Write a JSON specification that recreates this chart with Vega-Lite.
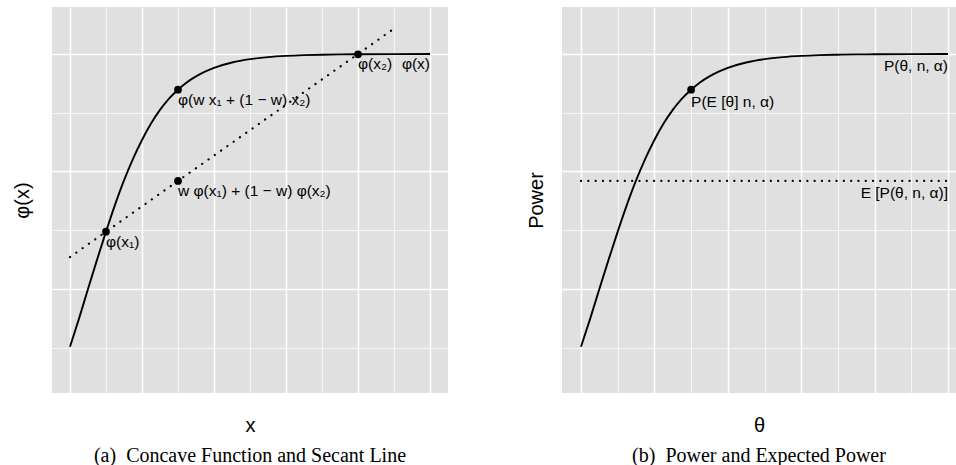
{
  "$schema": "https://vega.github.io/schema/vega-lite/v6.json",
  "padding": {"left": 12, "top": 7, "right": 0, "bottom": 0},
  "background": "white",
  "config": {
    "view": {"fill": "#E0E0E0", "stroke": null},
    "font": "Liberation Sans",
    "concat": {"spacing": 78},
    "axis": {
      "domain": false, "ticks": false, "labels": false, "grid": true,
      "gridColor": "white", "minExtent": 0,
      "titleFont": "Liberation Sans", "titleFontSize": 20, "titleFontWeight": "normal", "titleColor": "black"
    },
    "title": {"font": "Liberation Serif", "fontSize": 20, "fontWeight": "normal", "color": "black", "orient": "bottom", "anchor": "middle", "offset": 11}
  },
  "datasets": {
    "curve": [
      {"x": 0, "y": 0.377}, {"x": 0.025, "y": 0.437}, {"x": 0.05, "y": 0.5}, {"x": 0.075, "y": 0.562},
      {"x": 0.1, "y": 0.622}, {"x": 0.125, "y": 0.679}, {"x": 0.15, "y": 0.731}, {"x": 0.175, "y": 0.777},
      {"x": 0.2, "y": 0.817}, {"x": 0.225, "y": 0.852}, {"x": 0.25, "y": 0.881}, {"x": 0.275, "y": 0.905},
      {"x": 0.3, "y": 0.924}, {"x": 0.325, "y": 0.94}, {"x": 0.35, "y": 0.9525}, {"x": 0.375, "y": 0.9626},
      {"x": 0.4, "y": 0.9706}, {"x": 0.45, "y": 0.982}, {"x": 0.5, "y": 0.989}, {"x": 0.55, "y": 0.9933},
      {"x": 0.6, "y": 0.9959}, {"x": 0.65, "y": 0.9975}, {"x": 0.7, "y": 0.9985}, {"x": 0.75, "y": 0.9991},
      {"x": 0.8, "y": 0.9994}, {"x": 0.9, "y": 0.9998}, {"x": 1.0, "y": 0.9999}
    ],
    "secant": [{"x": 0, "y": 0.568}, {"x": 0.9, "y": 1.054}],
    "ptsA": [
      {"x": 0.1, "y": 0.622, "label": "φ(x₁)"},
      {"x": 0.3, "y": 0.924, "label": "φ(w x₁ + (1 − w) x₂)"},
      {"x": 0.3, "y": 0.73, "label": "w φ(x₁) + (1 − w) φ(x₂)"},
      {"x": 0.8, "y": 0.9994, "label": "φ(x₂)"}
    ],
    "labA": [{"x": 1, "y": 1, "label": "φ(x)"}],
    "expected": [{"x": 0, "y": 0.73}, {"x": 1, "y": 0.73}],
    "ptsB": [{"x": 0.3, "y": 0.924, "label": "P(E [θ] n, α)"}],
    "labB": [
      {"x": 1, "y": 1, "label": "P(θ, n, α)"},
      {"x": 1, "y": 0.73, "label": "E [P(θ, n, α)]"}
    ]
  },
  "hconcat": [
    {
      "width": 396, "height": 386,
      "title": {"text": "(a)\u00a0\u00a0Concave Function and Secant Line"},
      "encoding": {
        "x": {"field": "x", "type": "quantitative",
              "scale": {"domain": [-0.05, 1.05], "nice": false, "zero": false},
              "axis": {"title": "x", "titlePadding": 22,
                       "values": [0, 0.1, 0.2, 0.3, 0.4, 0.5, 0.6, 0.7, 0.8, 0.9, 1.0],
                       "gridWidth": {"condition": {"test": "round(datum.value*10) % 2 === 0", "value": 1.5}, "value": 0.7}}},
        "y": {"field": "y", "type": "quantitative",
              "scale": {"domain": [0.2787, 1.1], "nice": false, "zero": false},
              "axis": {"title": "φ(x)", "titlePadding": 20,
                       "values": [0.375, 0.5, 0.625, 0.75, 0.875, 1.0],
                       "gridWidth": {"condition": {"test": "round(datum.value*8) % 2 === 0", "value": 1.5}, "value": 0.7}}}
      },
      "layer": [
        {"data": {"name": "curve"}, "mark": {"type": "line", "color": "black", "strokeWidth": 1.9, "interpolate": "monotone"}},
        {"data": {"name": "secant"}, "mark": {"type": "line", "color": "black", "strokeWidth": 2.2, "strokeCap": "round", "strokeDash": [0.1, 7.6]}},
        {"data": {"name": "ptsA"}, "mark": {"type": "circle", "color": "black", "opacity": 1, "size": 60}},
        {"data": {"name": "ptsA"}, "mark": {"type": "text", "align": "left", "baseline": "top", "dy": 3, "fontSize": 15.5, "color": "black"},
         "encoding": {"text": {"field": "label"}}},
        {"data": {"name": "labA"}, "mark": {"type": "text", "align": "right", "baseline": "top", "dy": 3, "fontSize": 15.5, "color": "black"},
         "encoding": {"text": {"field": "label"}}}
      ]
    },
    {
      "width": 394, "height": 386,
      "title": {"text": "(b)\u00a0\u00a0Power and Expected Power"},
      "encoding": {
        "x": {"field": "x", "type": "quantitative",
              "scale": {"domain": [-0.0518, 1.0218], "nice": false, "zero": false},
              "axis": {"title": "θ", "titlePadding": 22,
                       "values": [0, 0.1, 0.2, 0.3, 0.4, 0.5, 0.6, 0.7, 0.8, 0.9, 1.0],
                       "gridWidth": {"condition": {"test": "round(datum.value*10) % 2 === 0", "value": 1.5}, "value": 0.7}}},
        "y": {"field": "y", "type": "quantitative",
              "scale": {"domain": [0.2787, 1.1], "nice": false, "zero": false},
              "axis": {"title": "Power", "titlePadding": 16,
                       "values": [0.375, 0.5, 0.625, 0.75, 0.875, 1.0],
                       "gridWidth": {"condition": {"test": "round(datum.value*8) % 2 === 0", "value": 1.5}, "value": 0.7}}}
      },
      "layer": [
        {"data": {"name": "curve"}, "mark": {"type": "line", "color": "black", "strokeWidth": 1.9, "interpolate": "monotone"}},
        {"data": {"name": "expected"}, "mark": {"type": "line", "color": "black", "strokeWidth": 2.2, "strokeCap": "round", "strokeDash": [0.1, 7.2]}},
        {"data": {"name": "ptsB"}, "mark": {"type": "circle", "color": "black", "opacity": 1, "size": 60}},
        {"data": {"name": "ptsB"}, "mark": {"type": "text", "align": "left", "baseline": "top", "dy": 5, "fontSize": 15.5, "color": "black"},
         "encoding": {"text": {"field": "label"}}},
        {"data": {"name": "labB"}, "mark": {"type": "text", "align": "right", "baseline": "top", "dy": 5, "fontSize": 15.5, "color": "black"},
         "encoding": {"text": {"field": "label"}}}
      ]
    }
  ]
}
